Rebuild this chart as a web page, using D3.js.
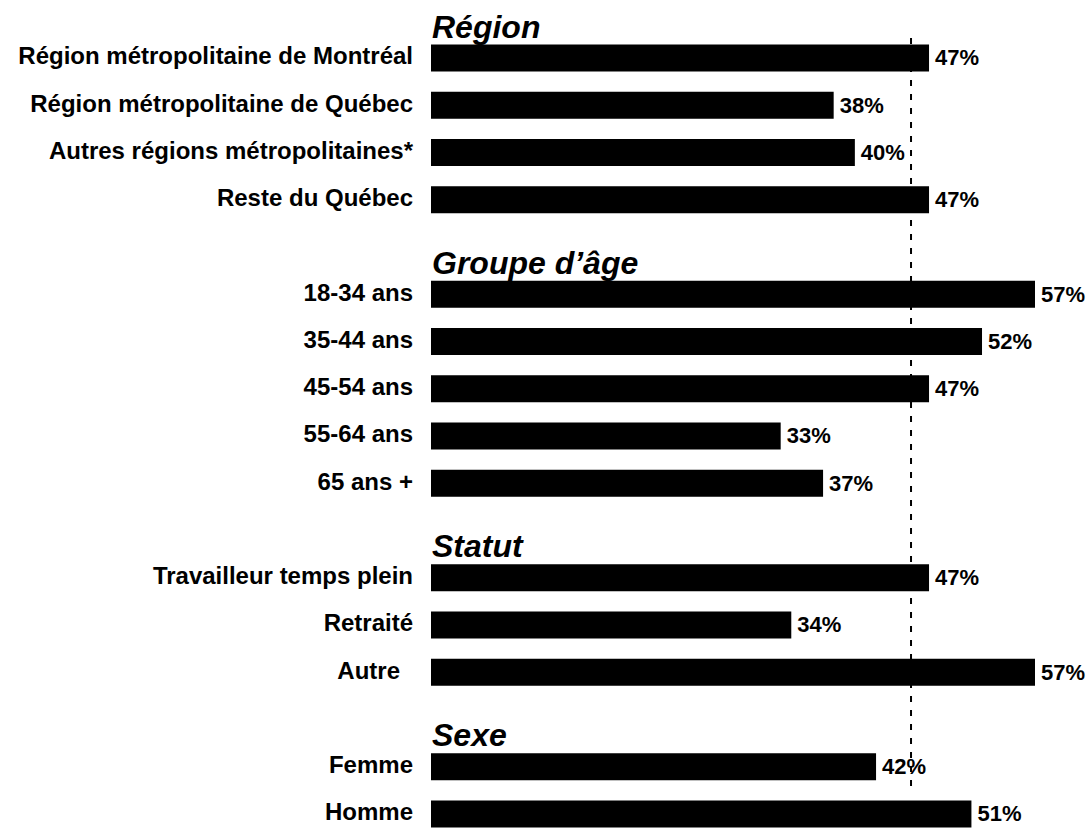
<!DOCTYPE html>
<html>
<head>
<meta charset="utf-8">
<script src="https://cdn.jsdelivr.net/npm/d3@7"></script>
<style>
  html, body { margin: 0; padding: 0; background: #fff; }
  svg { display: block; }
</style>
</head>
<body>
<div id="chart"></div>
<script>
// groups, row labels and values (percent)
const groups = ["Région", "Groupe d\u2019âge", "Statut", "Sexe"];
const regionLabels = ["Région métropolitaine de Montréal", "Région métropolitaine de Québec", "Autres régions métropolitaines*", "Reste du Québec"];
const regionValues = [47, 38, 40, 47];
const ageLabels = ["18-34 ans", "35-44 ans", "45-54 ans", "55-64 ans", "65 ans +"];
const ageValues = [57, 52, 47, 33, 37];
const statutLabels = ["Travailleur temps plein", "Retraité", "Autre"];
const statutValues = [47, 34, 57];
const sexeLabels = ["Femme", "Homme"];
const sexeValues = [42, 51];
const averageValue = 45.3;

const width = 1086, height = 834;
const margin = {top: 58, left: 431, right: 51, bottom: 20};

const groupLabels = [regionLabels, ageLabels, statutLabels, sexeLabels];
const groupValues = [regionValues, ageValues, statutValues, sexeValues];

// flat rows, one blank slot between groups
const rows = [];
const heads = [];
let slot = 0;
groupLabels.forEach((labels, g) => {
  heads.push({name: groups[g], slot: slot});
  labels.forEach((l, i) => rows.push({label: l, value: groupValues[g][i], slot: slot++}));
  slot++;
});
const lastSlot = slot - 2;

const x = d3.scaleLinear().domain([0, d3.max(rows, d => d.value)]).range([margin.left, width - margin.right]);
const y = d3.scaleLinear().domain([0, lastSlot]).range([margin.top, height - margin.bottom]);
const barH = 27;

const svg = d3.select("#chart").append("svg")
  .attr("width", width)
  .attr("height", height)
  .attr("viewBox", [0, 0, width, height]);

// average reference line
svg.append("line")
  .attr("x1", x(averageValue)).attr("x2", x(averageValue))
  .attr("y1", y(0) - 20).attr("y2", y(lastSlot - 1) + 22)
  .attr("stroke", "#000")
  .attr("stroke-width", 2)
  .attr("stroke-dasharray", "6,8");

svg.append("g")
  .attr("fill", "#000")
  .selectAll("rect")
  .data(rows)
  .join("rect")
  .attr("x", x(0))
  .attr("y", d => y(d.slot) - barH / 2)
  .attr("width", d => x(d.value) - x(0))
  .attr("height", barH);

svg.append("g")
  .attr("font-family", "Liberation Sans, Arial, sans-serif")
  .attr("font-weight", "bold")
  .attr("font-size", 24)
  .attr("text-anchor", "end")
  .selectAll("text")
  .data(rows)
  .join("text")
  .attr("x", d => d.label === "Autre" ? x(0) - 31 : x(0) - 18)
  .attr("y", d => y(d.slot))
  .attr("dy", "0.27em")
  .text(d => d.label);

svg.append("g")
  .attr("font-family", "Liberation Sans, Arial, sans-serif")
  .attr("font-weight", "bold")
  .attr("font-size", 22)
  .selectAll("text")
  .data(rows)
  .join("text")
  .attr("x", d => x(d.value) + 6)
  .attr("y", d => y(d.slot))
  .attr("dy", "0.34em")
  .text(d => d.value + "%");

svg.append("g")
  .attr("font-family", "Liberation Sans, Arial, sans-serif")
  .attr("font-weight", "bold")
  .attr("font-style", "italic")
  .attr("font-size", 32)
  .selectAll("text")
  .data(heads)
  .join("text")
  .attr("x", x(0) + 1)
  .attr("y", d => y(d.slot) - 20.5)
  .text(d => d.name);
</script>
</body>
</html>
